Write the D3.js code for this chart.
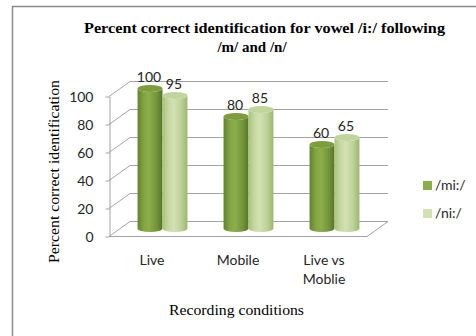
<!DOCTYPE html>
<html>
<head>
<meta charset="utf-8">
<script src="https://cdn.jsdelivr.net/npm/d3@7"></script>
<style>
  html, body { margin: 0; padding: 0; background: #ffffff; }
  svg { display: block; }
  .sans { font-family: Lato, "Open Sans", sans-serif; }
  .serif { font-family: "Liberation Serif", "DejaVu Serif", serif; }
</style>
</head>
<body>
<svg id="chart" width="476" height="336"></svg>
<script>
// Chart data
const categories = ["Live", "Mobile", "Live vs\nMoblie"];
const seriesNames = ["/mi:/", "/ni:/"];
const miValues = [100, 80, 60];
const niValues = [95, 85, 65];
const yTicks = [0, 20, 40, 60, 80, 100];
const titleLines = ["Percent correct identification for vowel /i:/ following", "/m/ and /n/"];
const yTitle = "Percent correct identification";
const xTitle = "Recording conditions";

const seriesValues = [miValues, niValues];

// Layout
const W = 476, H = 336;
const plot = { left: 109, right: 367, top: 96, bottom: 236 };
const depth = { dx: 21, dy: -15 };
const gridColor = "#a3a3a3";

const svg = d3.select("#chart");

// Gradients for the cylinder bodies
const defs = svg.append("defs");
const palettes = [
  { stops: [["0%", "#64822d"], ["25%", "#82a442"], ["45%", "#8cae4a"], ["75%", "#75963a"], ["100%", "#58742a"]], top: "#7d9d3c" },
  { stops: [["0%", "#a9c37c"], ["25%", "#c6d9a3"], ["45%", "#d2e2b4"], ["75%", "#bcd196"], ["100%", "#9db66f"]], top: "#c0d59c" }
];
palettes.forEach((p, i) => {
  const g = defs.append("linearGradient").attr("id", "cyl" + i)
    .attr("x1", "0%").attr("x2", "100%").attr("y1", "0%").attr("y2", "0%");
  p.stops.forEach(s => g.append("stop").attr("offset", s[0]).attr("stop-color", s[1]));
});

// Outer frame
svg.append("rect")
  .attr("x", 12.5).attr("y", 6.5).attr("width", 480).attr("height", 340)
  .attr("fill", "none").attr("stroke", "#8c8c8c").attr("stroke-width", 1.5);

// Scales
const y = d3.scaleLinear().domain([0, 100]).range([plot.bottom, plot.top]);
const x0 = d3.scaleBand().domain(categories).range([plot.left, plot.right])
  .paddingInner(0.42).paddingOuter(0.21);
const x1 = d3.scaleBand().domain(seriesNames).range([0, x0.bandwidth()]);

// Walls: side-wall diagonals and back-wall gridlines
const grid = svg.append("g").attr("stroke", gridColor).attr("stroke-width", 1).attr("fill", "none");
yTicks.forEach(t => {
  const yy = Math.round(y(t)) + 0.5;
  grid.append("line").attr("x1", plot.left).attr("y1", yy)
    .attr("x2", plot.left + depth.dx).attr("y2", yy + depth.dy);
  grid.append("line").attr("x1", plot.left + depth.dx).attr("y1", yy + depth.dy)
    .attr("x2", plot.right + depth.dx).attr("y2", yy + depth.dy);
});
// Floor front edge and right edge
const y0 = Math.round(y(0)) + 0.5;
grid.append("line").attr("x1", plot.left).attr("y1", y0).attr("x2", plot.right).attr("y2", y0);
grid.append("line").attr("x1", plot.right).attr("y1", y0)
  .attr("x2", plot.right + depth.dx).attr("y2", y0 + depth.dy);

// Y axis
const yAxis = d3.axisLeft(y).tickValues(yTicks).tickSize(4).tickSizeOuter(0).tickPadding(12);
const ax = svg.append("g").attr("transform", `translate(${plot.left + 0.5},0.5)`).call(yAxis);
ax.select(".domain").attr("stroke", gridColor);
ax.selectAll(".tick line").attr("stroke", gridColor);
ax.selectAll(".tick text").attr("class", "sans").attr("font-size", 14).attr("fill", "#262626")
  .attr("dy", "0.36em");

// Cylinders, drawn at half depth
const mx = depth.dx / 2, my = depth.dy / 2;
const ry = 3.5;
const bars = svg.append("g");
categories.forEach((c, ci) => {
  seriesNames.forEach((s, si) => {
    const v = seriesValues[si][ci];
    const left = x0(c) + x1(s) + mx;
    const rx = x1.bandwidth() / 2;
    const cx = left + rx;
    const yb = y(0) + my, yt = y(v) + my;
    bars.append("path")
      .attr("d", `M${left},${yt} L${left},${yb} A${rx},${ry} 0 0 0 ${left + 2 * rx},${yb} L${left + 2 * rx},${yt} A${rx},${ry} 0 0 1 ${left},${yt} Z`)
      .attr("fill", `url(#cyl${si})`);
    bars.append("ellipse").attr("cx", cx).attr("cy", yt).attr("rx", rx).attr("ry", ry)
      .attr("fill", palettes[si].top);
    bars.append("text").attr("class", "sans").attr("font-size", 14).attr("fill", "#262626")
      .attr("x", cx - 1).attr("y", yt - 7).attr("text-anchor", "middle").text(v);
  });
});

// Category labels (front edge)
categories.forEach(c => {
  const lines = c.split("\n");
  const t = svg.append("text").attr("class", "sans").attr("font-size", 14).attr("fill", "#262626")
    .attr("text-anchor", "middle");
  lines.forEach((ln, i) => {
    t.append("tspan").attr("x", x0(c) + x0.bandwidth() / 2).attr("y", 265 + i * 19).text(ln);
  });
});

// Title
const titleG = svg.append("g").attr("class", "serif").attr("font-weight", "bold")
  .attr("font-size", 15).attr("fill", "#000");
titleG.append("text").attr("x", 264.5).attr("y", 33).attr("text-anchor", "middle")
  .attr("textLength", 361).attr("lengthAdjust", "spacingAndGlyphs").text(titleLines[0]);
titleG.append("text").attr("x", 252).attr("y", 52).attr("text-anchor", "middle").text(titleLines[1]);

// Axis titles
svg.append("text").attr("class", "serif").attr("font-size", 14).attr("fill", "#000")
  .attr("text-anchor", "middle").attr("transform", "translate(59,171.5) rotate(-90)")
  .attr("textLength", 183).attr("lengthAdjust", "spacingAndGlyphs").text(yTitle);
svg.append("text").attr("class", "serif").attr("font-size", 14).attr("fill", "#000")
  .attr("text-anchor", "middle").attr("x", 236.5).attr("y", 315)
  .attr("textLength", 135).attr("lengthAdjust", "spacingAndGlyphs").text(xTitle);

// Legend
const legend = svg.append("g");
seriesNames.forEach((s, i) => {
  const ly = 181 + i * 28;
  legend.append("rect").attr("x", 423).attr("y", ly).attr("width", 9).attr("height", 9)
    .attr("fill", palettes[i].stops[2][1]);
  legend.append("text").attr("class", "sans").attr("font-size", 14).attr("fill", "#262626")
    .attr("x", 435).attr("y", ly + 8.5).text(s);
});
</script>
</body>
</html>
